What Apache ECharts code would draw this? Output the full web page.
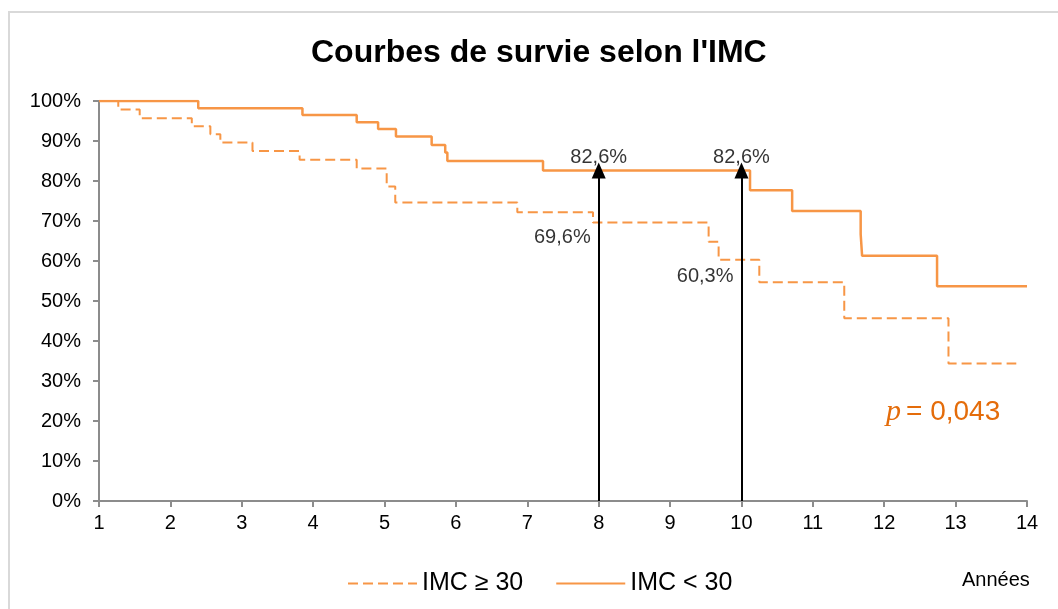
<!DOCTYPE html>
<html>
<head>
<meta charset="utf-8">
<script src="https://cdn.jsdelivr.net/npm/echarts@6/dist/echarts.min.js"></script>
<style>
  html, body { margin: 0; padding: 0; background: #fff; }
  #chart { width: 1058px; height: 609px; }
</style>
</head>
<body>
<div id="chart"></div>
<script>
// IMC < 30 (trait plein) : temps (années) et survie (%)
const solidTime = [1, 2.39, 3.85, 4.61, 4.91, 5.16, 5.66, 5.85, 5.88, 7.22, 10.12, 10.71, 11.67, 11.69, 12.74, 14]
const solidSurv = [100, 98.2, 96.5, 94.7, 93.0, 91.1, 89.0, 87.1, 85.0, 82.6, 77.7, 72.5, 66.7, 61.3, 53.7, 53.7]

// IMC >= 30 (pointillés)
const dashTime = [1, 1.27, 1.57, 2.30, 2.56, 2.70, 3.15, 3.81, 4.61, 5.03, 5.15, 6.86, 7.92, 9.54, 9.68, 10.25, 11.44, 12.90, 13.85]
const dashSurv = [100, 97.9, 95.7, 93.7, 91.7, 89.6, 87.5, 85.3, 83.1, 78.6, 74.6, 72.2, 69.6, 64.8, 60.3, 54.7, 45.7, 34.4, 34.4]

// flèches verticales
const arrowX = [8, 10]
const arrowTop = [82.6, 82.6]

// étiquettes
const noteX = [8, 10, 8, 10]
const noteY = [82.6, 82.6, 65.8, 56.1]
const noteText = ['82,6%', '82,6%', '69,6%', '60,3%']
const notePos = ['top', 'top', 'left', 'left']

const seriesNames = ['IMC ≥ 30', 'IMC < 30']
const orange = '#F79646'
const font = "'Liberation Sans', Arial, sans-serif"

const chart = echarts.init(document.getElementById('chart'))

const option = {
  animation: false,
  textStyle: { fontFamily: font },
  title: [
    {
      text: "Courbes de survie selon l'IMC",
      left: 311,
      top: 37,
      padding: 0,
      textStyle: { fontSize: 32, fontWeight: 'bold', color: '#000', fontFamily: font }
    },
    {
      text: '{p|p} {v|= 0,043}',
      left: 886,
      top: 397,
      padding: 0,
      textStyle: {
        fontWeight: 'normal',
        rich: {
          p: { fontFamily: "'Liberation Serif', 'DejaVu Serif', serif", fontStyle: 'italic', fontWeight: 'normal', fontSize: 30, color: '#E46C0A' },
          v: { fontFamily: font, fontWeight: 'normal', fontSize: 28, color: '#E46C0A' }
        }
      }
    },
    {
      text: 'Années',
      left: 962,
      top: 570,
      padding: 0,
      textStyle: { fontSize: 20, fontWeight: 'normal', color: '#000', fontFamily: font }
    }
  ],
  graphic: [
    {
      type: 'rect',
      silent: true,
      z: -10,
      shape: { x: 9, y: 12, width: 1200, height: 800 },
      style: { fill: 'none', stroke: '#d9d9d9', lineWidth: 2 }
    }
  ],
  legend: {
    data: seriesNames,
    left: 342,
    top: 566,
    itemWidth: 69,
    itemHeight: 14,
    itemGap: 32,
    itemStyle: { opacity: 0 },
    textStyle: { fontSize: 25, color: '#000', fontFamily: font }
  },
  grid: { left: 99, right: 31, top: 101, bottom: 108 },
  xAxis: {
    type: 'value',
    min: 1,
    max: 14,
    interval: 1,
    splitLine: { show: false },
    axisLine: { lineStyle: { color: '#8c8c8c', width: 2 } },
    axisTick: { show: true, length: 6, lineStyle: { color: '#8c8c8c', width: 2 } },
    axisLabel: { fontSize: 20, color: '#000', margin: 12 }
  },
  yAxis: {
    type: 'value',
    min: 0,
    max: 100,
    interval: 10,
    splitLine: { show: false },
    axisLine: { show: true, lineStyle: { color: '#8c8c8c', width: 2 } },
    axisTick: { show: true, length: 6, lineStyle: { color: '#8c8c8c', width: 2 } },
    axisLabel: { fontSize: 20, color: '#000', margin: 18, formatter: '{value}%' }
  },
  series: [
    {
      name: seriesNames[0],
      type: 'line',
      step: 'end',
      symbol: 'none',
      color: orange,
      lineStyle: { color: orange, width: 2, type: [10, 5] },
      data: dashTime.map((t, i) => [t, dashSurv[i]]),
      z: 3
    },
    {
      name: seriesNames[1],
      type: 'line',
      step: 'end',
      symbol: 'none',
      color: orange,
      lineStyle: { color: orange, width: 2.5 },
      data: solidTime.map((t, i) => [t, solidSurv[i]]),
      z: 3
    },
    {
      name: 'flèches',
      type: 'line',
      data: [],
      markLine: {
        silent: true,
        symbol: ['none', 'triangle'],
        symbolSize: [14, 16],
        label: { show: false },
        lineStyle: { color: '#000', width: 2, type: 'solid' },
        itemStyle: { color: '#000' },
        data: arrowX.map((x, i) => [{ coord: [x, 0] }, { coord: [x, arrowTop[i]] }])
      },
      z: 4
    },
    {
      name: 'notes',
      type: 'scatter',
      symbolSize: 0,
      silent: true,
      itemStyle: { color: '#000' },
      label: { show: true, formatter: '{b}', fontSize: 20, color: '#000', textBorderWidth: 0, distance: 3 },
      data: noteX.map((x, i) => ({
        name: noteText[i],
        value: [x, noteY[i]],
        label: { position: notePos[i], color: '#000', distance: notePos[i] === 'top' ? 3 : 8 }
      })),
      z: 5
    }
  ]
}

chart.setOption(option)
</script>
</body>
</html>
